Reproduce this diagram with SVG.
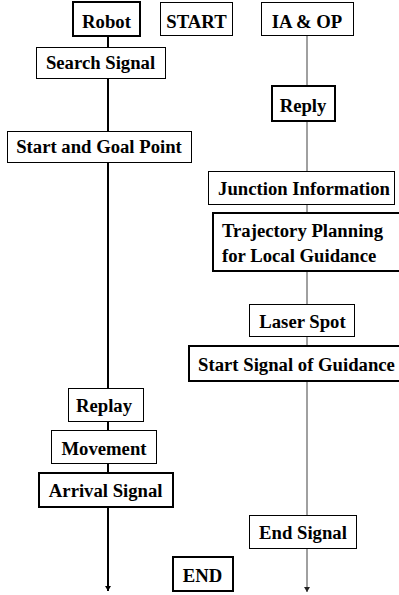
<svg xmlns="http://www.w3.org/2000/svg" width="399" height="595" viewBox="0 0 399 595">
<style>
.b{fill:#fff;stroke:#000;stroke-width:1}
.bt{fill:#fff;stroke:#000;stroke-width:2}
</style>
<defs>
<marker id="ab" viewBox="0 0 5 6" refX="5" refY="3" markerWidth="5" markerHeight="6" markerUnits="userSpaceOnUse" orient="auto"><path d="M0,0 L5,3 L0,6 Z" fill="#000"/></marker>
<marker id="ag" viewBox="0 0 5 6" refX="5" refY="3" markerWidth="5" markerHeight="6" markerUnits="userSpaceOnUse" orient="auto"><path d="M0,0 L5,3 L0,6 Z" fill="#222"/></marker>
</defs>
<g id="connectors">
<line x1="108" y1="36" x2="108" y2="591" stroke="#000" stroke-width="2" marker-end="url(#ab)"/>
<line x1="307" y1="36" x2="307" y2="592" stroke="#808080" stroke-width="1.5" marker-end="url(#ag)"/>
</g>
<g style="font-family:'Liberation Serif',serif;font-size:18.7px;font-weight:bold" fill="#000" text-anchor="middle">
<g id="robot"><rect class="bt" x="73" y="2" width="67" height="34"/><text x="106.5" y="27.5">Robot</text></g>
<g id="start"><rect class="b" x="160.5" y="2.5" width="72" height="33"/><text x="196.5" y="27.5">START</text></g>
<g id="iaop"><rect class="b" x="261.5" y="2.5" width="92" height="33"/><text x="307" y="27.5">IA &amp; OP</text></g>
<g id="search"><rect class="b" x="36.5" y="47.5" width="129" height="31"/><text x="100.5" y="69">Search Signal</text></g>
<g id="reply"><rect class="bt" x="272" y="86" width="63" height="35"/><text x="303" y="111.5">Reply</text></g>
<g id="startgoal"><rect class="b" x="7.5" y="131.5" width="184" height="31"/><text x="99" y="153">Start and Goal Point</text></g>
<g id="junction"><rect class="b" x="208.5" y="171.5" width="186" height="33"/><text x="304" y="195">Junction Information</text></g>
<g id="trajectory"><rect class="bt" x="213" y="213" width="190" height="58"/><text x="222" y="236.7" text-anchor="start">Trajectory Planning</text><text x="222" y="261.7" text-anchor="start">for Local Guidance</text></g>
<g id="laser"><rect class="b" x="249.5" y="304.5" width="105" height="32"/><text x="302.5" y="328">Laser Spot</text></g>
<g id="startsignal"><rect class="bt" x="189" y="346" width="212" height="35"/><text x="296.5" y="371">Start Signal of Guidance</text></g>
<g id="replay"><rect class="b" x="68.5" y="388.5" width="75" height="33"/><text x="104" y="412">Replay</text></g>
<g id="movement"><rect class="b" x="51.5" y="430.5" width="105" height="33"/><text x="104" y="455">Movement</text></g>
<g id="arrival"><rect class="bt" x="39" y="473" width="134" height="34"/><text x="105.7" y="497">Arrival Signal</text></g>
<g id="endsignal"><rect class="b" x="249.5" y="515.5" width="107" height="33"/><text x="303" y="539">End Signal</text></g>
<g id="end"><rect class="bt" x="173" y="557" width="60" height="34"/><text x="202.5" y="582">END</text></g>
</g>
</svg>
